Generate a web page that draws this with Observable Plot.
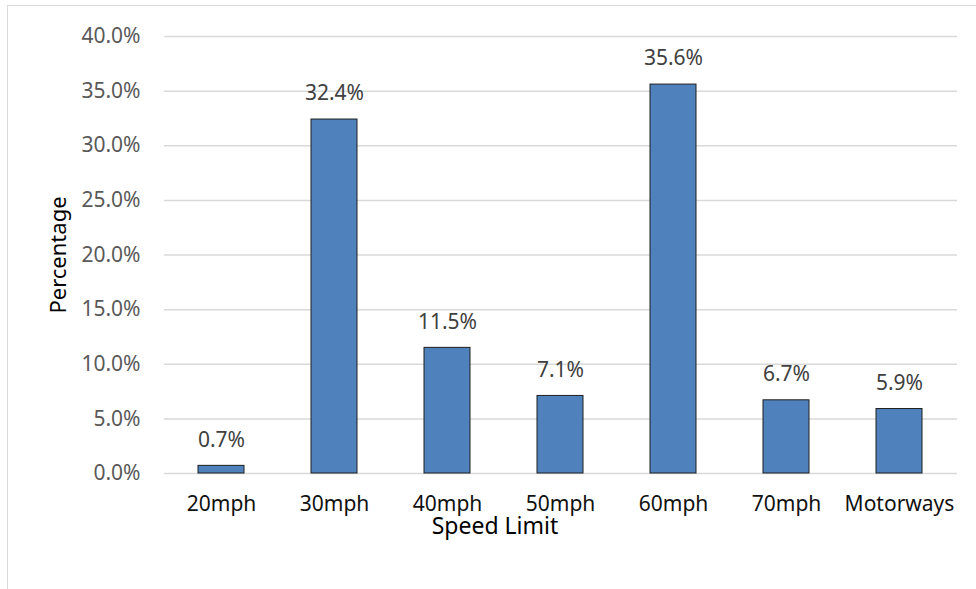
<!DOCTYPE html>
<html>
<head>
<meta charset="utf-8">
<script src="https://cdn.jsdelivr.net/npm/d3@7"></script>
<script src="https://cdn.jsdelivr.net/npm/@observablehq/plot@0.6"></script>
<style>
  html, body { margin: 0; padding: 0; background: #fff; }
  #wrap { position: relative; width: 976px; height: 589px; overflow: hidden; }
  #frame { position: absolute; left: 6.5px; top: 5px; width: 1000px; height: 700px;
           border-left: 1.5px solid #d9d9d9; border-top: 1.5px solid #d9d9d9; pointer-events: none; }
  svg { font-family: "Noto Sans", "Open Sans", sans-serif; }
</style>
</head>
<body>
<div id="wrap"><div id="frame"></div></div>
<script>
const categories = ["20mph", "30mph", "40mph", "50mph", "60mph", "70mph", "Motorways"];
const percentages = [0.7, 32.4, 11.5, 7.1, 35.6, 6.7, 5.9];
const yTicks = [0, 5, 10, 15, 20, 25, 30, 35, 40];
const xTitle = "Speed Limit";
const yTitle = "Percentage";

const data = categories.map((c, i) => ({category: c, value: percentages[i]}));
const fmt = v => v.toFixed(1) + "%";

const chart = Plot.plot({
  width: 976,
  height: 589,
  marginLeft: 164,
  marginRight: 19,
  marginTop: 36,
  marginBottom: 116,
  style: {fontFamily: '"Noto Sans", "Open Sans", sans-serif', background: "transparent"},
  x: {domain: categories, paddingInner: 0.59, paddingOuter: 0.295, label: null},
  y: {domain: [0, 40], label: null},
  marks: [
    Plot.ruleY(yTicks, {stroke: "#d9d9d9", strokeWidth: 1.5}),
    Plot.barY(data, {x: "category", y: "value", fill: "#4f81bd", stroke: "#1e1e1e", strokeWidth: 1}),
    Plot.text(data, {x: "category", y: "value", text: d => fmt(d.value), dy: -26,
      fontSize: 21, fill: "#404040"}),
    Plot.axisY(yTicks, {tickSize: 0, tickPadding: 24, tickFormat: fmt, fontSize: 21,
      fill: "#595959", label: null}),
    Plot.axisX({tickSize: 0, tickPadding: 23, fontSize: 21, fill: "#111", label: null}),
    Plot.text([xTitle], {frameAnchor: "bottom", dx: -66, dy: 60, fontSize: 23, fill: "#000"}),
    Plot.text([yTitle], {frameAnchor: "left", textAnchor: "middle", rotate: -90, dx: -106,
      fontSize: 22, fill: "#000"})
  ]
});
document.getElementById("wrap").prepend(chart);
</script>
</body>
</html>
